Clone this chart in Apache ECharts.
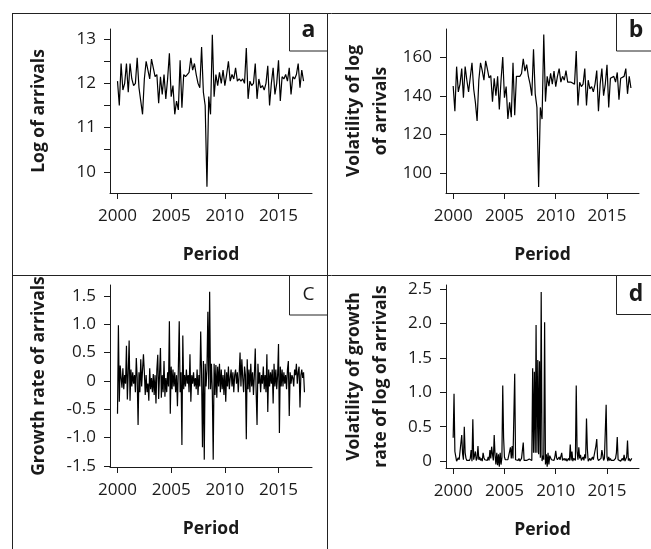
<!DOCTYPE html>
<html>
<head>
<meta charset="utf-8">
<script src="https://cdn.jsdelivr.net/npm/echarts@6/dist/echarts.min.js"></script>
<style>
html,body{margin:0;padding:0;background:#fff;}
#chart{width:651px;height:549px;}
</style>
</head>
<body>
<div id="chart"></div>
<script>
// ---- data ----
const periodTicks = [2000, 2005, 2010, 2015];
const startYear = 2000;

// a: Log of arrivals (bi-monthly readings)
const logArrivals = [12.05,11.5,12.45,11.85,12.0,12.45,11.8,12.45,12.1,11.95,
12.0,12.58,11.9,11.6,11.3,12.1,12.5,12.3,12.1,12.55,
12.35,12.15,12.2,11.55,12.15,11.75,12.2,11.65,12.1,12.68,
11.7,11.95,11.3,11.6,11.4,12.52,11.45,12.2,12.15,12.2,
12.25,12.58,12.3,12.45,12.2,12.0,11.9,12.82,11.8,11.5,
9.66,11.7,11.3,13.1,11.7,12.2,11.95,12.25,12.0,12.3,
11.95,12.2,12.5,12.05,12.2,12.1,12.35,12.05,12.1,12.05,
12.1,12.0,12.8,11.65,12.05,11.95,12.0,12.45,11.65,12.1,
11.9,11.95,11.85,12.0,12.4,11.5,12.0,12.35,11.75,12.0,
12.52,11.6,12.15,12.1,12.2,12.05,12.35,11.75,12.15,12.1,
12.2,12.45,11.9,12.3,12.05];

// b: Volatility of log of arrivals (bi-monthly readings)
const volLog = [145,132,155,142,146,154,139,155,148,142,
143,157,143.5,136.6,127,148,157,153,148,158,
153.8,149.2,150.4,137,149,140,150,133,148,160,
139,144.7,128,136.6,129,157,130,150,149,150,
151.5,159,152.7,156,150,146,140,164,141,134,
93,134,128,171.5,137,150,145,151.5,146,152.7,
144.7,150,154,147,150,148,153,147,148,147,
148,146,163,135,147,144.7,146,154,135,148,
143.5,144.7,142,146,153,132,146,154,140,146,
156,134,149,148,150,147,152,138,149,148,
150,154,141,150,144];

// c: Growth rate of arrivals (monthly readings)
const growthRate = [-0.58,0.98,-0.37,0.27,0.05,-0.12,0.22,-0.15,0.1,-0.05,
0.62,-0.33,0.15,0.71,-0.35,0.2,-0.1,0.15,-0.05,0.1,
-0.2,0.4,0.05,-0.78,0.15,-0.2,0.38,-0.1,0.2,0.47,
0.15,-0.25,0.1,-0.2,-0.05,-0.35,0.22,-0.15,0.05,-0.2,
0.12,-0.25,0.1,-0.4,0.2,0.46,-0.32,0.12,0.58,-0.3,
0.1,-0.2,0.35,-0.28,0.05,-0.2,0.15,-0.1,1.05,-0.58,
0.25,-0.15,0.2,-0.1,0.15,-0.2,0.1,-0.45,0.2,1.05,
-0.2,0.15,-1.13,0.8,-0.15,0.1,-0.1,0.2,-0.05,0.1,
-0.2,0.47,-0.37,0.1,-0.05,0.15,-0.1,0.05,-0.15,0.2,
-0.25,0.1,-0.1,0.87,0.1,-1.17,0.35,-1.39,0.3,-0.1,
0.2,1.22,-0.15,1.57,-0.15,0.3,-0.2,-1.39,0.3,-0.25,
0.28,-0.3,0.25,-0.1,0.3,-0.2,0.2,-0.15,0.1,-0.25,
0.2,-0.37,0.15,-0.1,0.25,-0.15,0.05,0.2,-0.1,0.15,
-0.2,0.1,0.2,-0.05,0.15,-0.2,0.1,0.5,-0.1,0.38,
0.05,-0.2,0.25,0.1,-1.03,0.38,-0.15,0.2,-0.2,0.3,
-0.1,0.15,-0.25,0.1,0.57,-0.2,-0.78,0.3,-0.05,0.15,
-0.2,0.1,-0.05,0.25,-0.15,0.1,-0.2,0.47,-0.55,0.2,
-0.1,0.15,-0.05,0.2,-0.4,0.3,-0.1,0.2,-0.15,0.1,
0.65,-0.92,0.25,-0.1,0.2,-0.1,0.15,-0.05,0.1,-0.15,
0.2,0.35,-0.62,0.15,-0.05,0.1,0.05,-0.1,0.2,0.1,
0.3,-0.05,0.15,0.25,-0.47,0.1,0.2,0.05,0.15,-0.2];

// d: Volatility of growth rate of log of arrivals (monthly readings)
const volGrowth = [0.34,0.98,0.14,0.07,0.0,0.01,0.05,0.02,0.01,0.0,
0.38,0.11,0.02,0.5,0.12,0.04,0.01,0.02,0.0,0.01,
0.04,0.16,0.0,0.61,0.02,0.04,0.14,0.01,0.04,0.22,
0.02,0.06,0.01,0.04,0.0,0.12,0.05,0.02,0.0,0.04,
0.01,0.06,0.01,0.16,0.04,0.21,0.1,0.01,0.38,0.09,
-0.05,0.12,-0.06,0.1,-0.08,0.12,-0.05,0.05,1.1,0.34,
0.06,0.02,0.04,0.01,0.02,0.04,0.01,0.2,0.04,0.22,
0.04,0.02,1.27,0.02,0.02,0.01,0.01,0.04,0.0,0.01,
0.04,0.05,0.27,0.01,0.0,0.02,0.01,0.0,0.02,0.03,
0.02,0.01,0.01,1.35,0.12,1.3,0.12,1.98,0.12,1.47,
0.1,1.45,0.05,2.46,0.0,0.08,0.02,2.02,-0.05,0.1,
-0.08,0.12,-0.05,0.08,0.06,0.02,0.04,0.02,0.01,0.06,
0.15,0.05,0.02,0.01,0.06,0.02,0.0,0.12,0.01,0.02,
0.04,0.01,0.04,0.0,0.02,0.04,0.01,0.24,0.01,0.14,
0.0,0.04,0.06,0.01,1.1,0.14,0.02,0.2,0.04,0.09,
0.01,0.02,0.06,0.01,0.1,0.04,0.62,0.18,0.0,0.02,
0.04,0.01,0.0,0.06,0.02,0.01,0.04,0.22,0.32,0.04,
0.01,0.02,0.0,0.04,0.16,0.09,0.01,0.04,0.02,0.82,
0.06,0.0,0.06,0.01,0.04,0.01,0.02,0.0,0.01,0.02,
0.04,0.12,0.35,0.02,0.0,0.01,0.0,0.01,0.04,0.01,
0.09,0.0,0.02,0.06,0.3,0.01,0.04,0.0,0.02,0.04];

const aTicks = [10, 10.5, 11, 11.5, 12, 12.5, 13];
const aLabels = [10, 11, 12, 13];
const bTicks = [100, 120, 140, 160];
const cTicks = [-1.5, -1, -0.5, 0, 0.5, 1, 1.5];
const dTicks = [0, 0.5, 1, 1.5, 2, 2.5];

// ---- build ----
const FONT = 'Open Sans';
const INK = '#1a1a1a';
function pairs(vals, perYear) {
  return vals.map((v, i) => [startYear + i / perYear, v]);
}
function fmt(v) { return v === 0 ? '0' : v.toFixed(1); }

const grids = [
  {left: 110, top: 29, width: 202, height: 164},
  {left: 446, top: 29, width: 193, height: 164},
  {left: 110, top: 285, width: 202, height: 182},
  {left: 446, top: 285, width: 193, height: 183}
];
grids.forEach(g => { g.outerBoundsMode = 'none'; g.containLabel = false; });

const axisLineStyle = {show: true, onZero: false, lineStyle: {color: INK, width: 1}};
function makeX(i) {
  return {
    type: 'value', gridIndex: i, min: 1999.3, max: 2018.12,
    name: 'Period', nameLocation: 'middle', nameGap: 53,
    nameTextStyle: {fontFamily: FONT, fontWeight: 'bold', fontSize: 17.5, color: INK},
    axisLine: axisLineStyle,
    axisTick: {show: true, inside: false, length: 6, customValues: periodTicks, lineStyle: {color: INK}},
    axisLabel: {show: true, margin: 15, customValues: periodTicks, fontFamily: FONT, fontSize: 17, color: INK,
      formatter: v => String(v)},
    splitLine: {show: false}
  };
}
function makeY(i, min, max, ticks, labels, name, gap, fmtFn) {
  return {
    type: 'value', gridIndex: i, min: min, max: max,
    name: name, nameLocation: 'middle', nameGap: gap,
    nameTextStyle: {fontFamily: FONT, fontWeight: 'bold', fontSize: 17.5, color: INK, lineHeight: 27},
    axisLine: axisLineStyle,
    axisTick: {show: true, inside: false, length: 6, customValues: ticks, lineStyle: {color: INK}},
    axisLabel: {show: true, margin: 14, customValues: labels, fontFamily: FONT, fontSize: 17, color: INK,
      formatter: fmtFn},
    splitLine: {show: false}
  };
}

const lineStyle = {color: '#000', width: 1.2};
function series(i, data) {
  return {type: 'line', xAxisIndex: i, yAxisIndex: i, data: data, showSymbol: false, symbol: 'none',
    lineStyle: lineStyle, silent: true, animation: false, emphasis: {disabled: true}};
}

const frameStyle = {stroke: '#222', lineWidth: 1, fill: null};
function hline(x1, x2, y) { return {type: 'line', shape: {x1: x1, y1: y, x2: x2, y2: y}, style: frameStyle, silent: true}; }
function vline(x, y1, y2) { return {type: 'line', shape: {x1: x, y1: y1, x2: x, y2: y2}, style: frameStyle, silent: true}; }
function box(x, y, w, h) { return {type: 'rect', shape: {x: x, y: y, width: w, height: h}, style: {stroke: '#222', lineWidth: 1, fill: '#fff'}, silent: true}; }
function tag(t, x, y, size, weight) {
  return {type: 'text', x: x, y: y, silent: true,
    style: {text: t, fontFamily: FONT, fontSize: size, fontWeight: weight, fill: INK, align: 'center', verticalAlign: 'middle'}};
}

const option = {
  animation: false,
  backgroundColor: '#fff',
  grid: grids,
  xAxis: [makeX(0), makeX(1), makeX(2), makeX(3)],
  yAxis: [
    makeY(0, 9.52, 13.23, aTicks, aLabels, 'Log of arrivals', 57, v => String(v)),
    makeY(1, 89.9, 174.4, bTicks, bTicks, 'Volatility of log\nof arrivals', 51, v => String(v)),
    makeY(2, -1.52, 1.69, cTicks, cTicks, 'Growth rate of arrivals', 57, fmt),
    makeY(3, -0.1, 2.56, dTicks, dTicks, 'Volatility of growth\nrate of log of arrivals', 51, fmt)
  ],
  series: [
    series(0, pairs(logArrivals, 6)),
    series(1, pairs(volLog, 6)),
    series(2, pairs(growthRate, 12)),
    series(3, pairs(volGrowth, 12))
  ],
  graphic: [
    hline(12, 651, 13.5),
    vline(12.5, 13, 549),
    vline(327.5, 13, 549),
    hline(12, 651, 275.5),
    box(289.5, 13.5, 38, 37.5),
    box(616.5, 13.5, 50, 37.5),
    box(289.5, 275.5, 38, 39.5),
    box(616.5, 275.5, 50, 39),
    tag('a', 308.5, 30, 23, 'bold'),
    tag('b', 636, 30, 23, 'bold'),
    tag('C', 308.5, 295, 19, 'normal'),
    tag('d', 636, 294, 23, 'bold')
  ]
};

const chart = echarts.init(document.getElementById('chart'), null, {renderer: 'canvas', width: 651, height: 549});
chart.setOption(option);
</script>
</body>
</html>
